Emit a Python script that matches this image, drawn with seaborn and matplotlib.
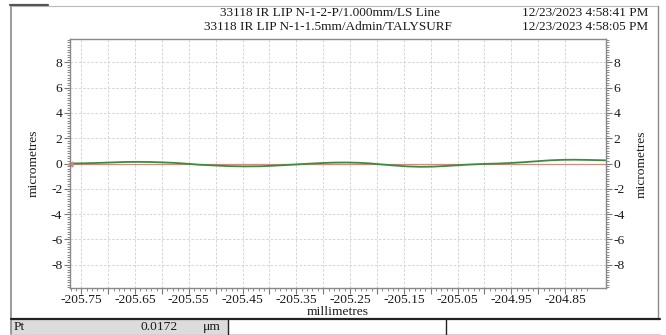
import numpy as np
import pandas as pd
import matplotlib
matplotlib.use("Agg")
import matplotlib.pyplot as plt
from matplotlib.patches import Rectangle
from matplotlib.lines import Line2D
from matplotlib.ticker import FixedLocator, FixedFormatter
import seaborn as sns

# ---- data ----
profile_x = [-205.771, -205.740, -205.716, -205.690, -205.669, -205.645, -205.623,
             -205.600, -205.577, -205.553, -205.530, -205.500, -205.474, -205.446,
             -205.418, -205.390, -205.361, -205.333, -205.306, -205.282, -205.259,
             -205.236, -205.213, -205.190, -205.167, -205.143, -205.120, -205.097,
             -205.074, -205.050, -205.027, -205.000, -204.972, -204.948, -204.925,
             -204.902, -204.879, -204.855, -204.832, -204.805, -204.774]
profile_y = [0.00, 0.02, 0.05, 0.09, 0.12, 0.13, 0.12,
             0.09, 0.05, -0.02, -0.10, -0.16, -0.21, -0.23,
             -0.22, -0.17, -0.10, -0.03, 0.03, 0.07, 0.08,
             0.06, 0.01, -0.08, -0.16, -0.23, -0.26, -0.25,
             -0.20, -0.14, -0.08, -0.03, 0.00, 0.05, 0.11,
             0.18, 0.25, 0.29, 0.30, 0.28, 0.25]
ref_x = [-205.771, -204.774]
ref_y = [0.0, 0.0]

x_major = [-205.75, -205.70, -205.65, -205.60, -205.55, -205.50, -205.45, -205.40,
           -205.35, -205.30, -205.25, -205.20, -205.15, -205.10, -205.05, -205.00,
           -204.95, -204.90, -204.85]
x_labels = ["-205.75", "", "-205.65", "", "-205.55", "", "-205.45", "", "-205.35", "",
            "-205.25", "", "-205.15", "", "-205.05", "", "-204.95", "", "-204.85"]
y_major = [-8, -6, -4, -2, 0, 2, 4, 6, 8]
y_labels = ["-8", "-6", "-4", "-2", "0", "2", "4", "6", "8"]

title_lines = ["33118 IR LIP N-1-2-P/1.000mm/LS Line", "33118 IR LIP N-1-1.5mm/Admin/TALYSURF"]
date_lines = ["12/23/2023 4:58:41 PM", "12/23/2023 4:58:05 PM"]
param_name = "Pt"
param_value = "0.0172"
param_unit = "\u03bcm"

# ---- style ----
sns.set_theme(style="white")
plt.rcParams['font.family'] = ['Liberation Serif', 'DejaVu Serif']
FS = 9.7
HFS = 9.5
TXT = '#1a1a1a'

W, H = 666, 335
fig = plt.figure(figsize=(W / 100, H / 100), dpi=100)

def fx(px):
    return px / W

def fy(py):
    return 1 - py / H

L, R, T, B = 70, 606, 39, 288
ax = fig.add_axes([fx(L), fy(B), (R - L) / W, (B - T) / H])

df = pd.DataFrame({"x": profile_x, "y": profile_y})
dref = pd.DataFrame({"x": ref_x, "y": ref_y})
sns.lineplot(data=dref, x="x", y="y", ax=ax, color="#d08a80", linewidth=0.9)
sns.lineplot(data=df, x="x", y="y", ax=ax, color="#3f8a3f", linewidth=1.3)

ax.set_xlim(-205.771, -204.774)
ax.set_ylim(-9.85, 9.85)

ax.xaxis.set_major_locator(FixedLocator(x_major))
ax.xaxis.set_major_formatter(FixedFormatter(x_labels))
ax.xaxis.set_minor_locator(FixedLocator(np.round(np.arange(-205.77, -204.805, 0.01), 3)))
ax.yaxis.set_major_locator(FixedLocator(y_major))
ax.yaxis.set_major_formatter(FixedFormatter(y_labels))
ax.yaxis.set_minor_locator(FixedLocator(np.round(np.arange(-9.8, 9.81, 0.2), 2)))

ax.tick_params(axis='both', which='both', direction='out', colors='#777777',
               labelcolor=TXT, labelsize=FS)
ax.tick_params(axis='both', which='major', length=4, width=0.8, pad=1.5)
ax.tick_params(axis='x', which='major', pad=0.5)
ax.tick_params(axis='both', which='minor', length=2.2, width=0.6)
ax.tick_params(axis='y', which='both', left=True, right=True, labelleft=True, labelright=True)
ax.tick_params(axis='x', which='both', bottom=True)

ax.grid(True, which='major', color='#cfcfcf', linestyle=(0, (3, 2)), linewidth=0.6)
for s in ax.spines.values():
    s.set_color('#888888')
    s.set_linewidth(1.0)

ax.set_xlabel("")
ax.set_ylabel("micrometres", fontsize=FS, labelpad=8, color=TXT)
fig.text(fx(338), fy(312), "millimetres", ha='center', va='center', fontsize=FS, color=TXT)
fig.text(fx(642), fy(164), "micrometres", rotation=90, ha='center', va='center',
         fontsize=FS, color=TXT)

# small zero marker at left spine
ax.plot([ref_x[0]], [0], marker='<', color='#d08a80', markersize=3.5, clip_on=False)

# header texts
fig.text(fx(330), fy(13.5), title_lines[0], ha='center', va='center', fontsize=HFS, color=TXT)
fig.text(fx(328), fy(27), title_lines[1], ha='center', va='center', fontsize=HFS, color=TXT)
fig.text(fx(648), fy(13.5), date_lines[0], ha='right', va='center', fontsize=HFS, color=TXT)
fig.text(fx(648), fy(27), date_lines[1], ha='right', va='center', fontsize=HFS, color=TXT)

# outer frame
fig.add_artist(Line2D([fx(11), fx(11)], [fy(6), fy(334)], color='#8a8a8a', lw=1.2))
fig.add_artist(Line2D([fx(11), fx(658)], [fy(6), fy(6)], color='#bbbbbb', lw=0.8))
fig.add_artist(Line2D([fx(658), fx(658)], [fy(6), fy(319)], color='#8a8a8a', lw=1.0))
fig.add_artist(Line2D([fx(10), fx(48)], [fy(5), fy(5)], color='#555555', lw=1.6))

# bottom table
fig.add_artist(Rectangle((fx(11), fy(334)), fx(228) - fx(11), fy(319) - fy(334),
                         facecolor='#dcdcdc', edgecolor='none', transform=fig.transFigure))
fig.add_artist(Line2D([fx(11), fx(660)], [fy(319), fy(319)], color='#222222', lw=1.6))
fig.add_artist(Line2D([fx(11), fx(660)], [fy(334.5), fy(334.5)], color='#222222', lw=1.0))
fig.add_artist(Line2D([fx(228), fx(228)], [fy(319), fy(335)], color='#222222', lw=1.0))
fig.add_artist(Line2D([fx(446), fx(446)], [fy(319), fy(335)], color='#222222', lw=1.0))
fig.text(fx(14), fy(327), param_name, ha='left', va='center', fontsize=FS, color=TXT)
fig.text(fx(178), fy(327), param_value, ha='right', va='center', fontsize=FS, color=TXT)
fig.text(fx(203), fy(327), param_unit, ha='left', va='center', fontsize=FS, color=TXT)

fig.savefig("out.png", dpi=100)
